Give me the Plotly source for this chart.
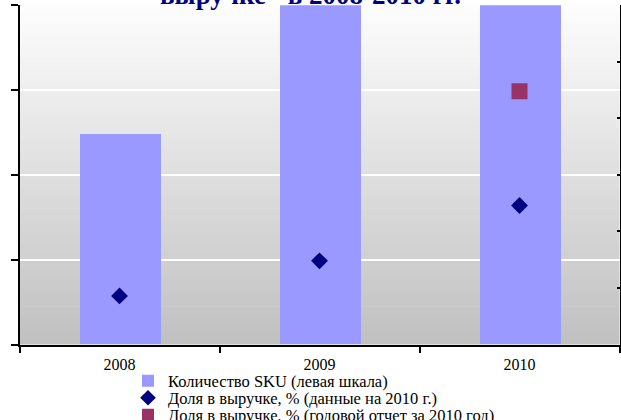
import plotly.graph_objects as go

# ---- data ----
years = ["2008", "2009", "2010"]
sku_count = [248, 480, 520]              # left scale (bars)
share_2010_data = [8.6, 14.8, 24.6]      # right scale (diamonds)
share_annual_years = ["2010"]
share_annual = [44.8]                    # right scale (square)
legend_names = [
    "Количество SKU (левая шкала)",
    "Доля в выручке, % (данные на 2010 г.)",
    "Доля в выручке, % (годовой отчет за 2010 год)",
]
title_text = 'выручке" в 2008-2010 гг.'

W, H = 621, 420
SERIF = "Liberation Serif, Times New Roman, serif"

fig = go.Figure()

fig.add_trace(go.Bar(
    x=years, y=sku_count, name=legend_names[0],
    marker=dict(color="#9999FF", line=dict(width=0)),
    width=0.405, yaxis="y", legend="legend",
))
fig.add_trace(go.Scatter(
    x=years, y=share_2010_data, name=legend_names[1], mode="markers",
    marker=dict(symbol="diamond", size=13, color="#000080"),
    yaxis="y2", legend="legend2",
))
fig.add_trace(go.Scatter(
    x=share_annual_years, y=share_annual, name=legend_names[2], mode="markers",
    marker=dict(symbol="square", size=16, color="#993366"),
    yaxis="y2", legend="legend3",
))

# plot-area geometry (pixels)
left_px, right_px, top_px, bottom_px = 19.5, 619.5, 5.3, 344.5
x_dom = [left_px / W, right_px / W]
y_dom = [(H - bottom_px) / H, (H - top_px) / H]

# gradient background bands
N = 90
for i in range(N):
    t0, t1 = i / N, (i + 1) / N
    g = int(round(192 + (253 - 192) * (i + 0.5) / N))
    fig.add_shape(type="rect", xref="x domain", yref="y domain",
                  x0=0, x1=1, y0=t0, y1=t1 + 0.002, layer="below",
                  line=dict(width=0), fillcolor=f"rgb({g},{g},{g})")

# far-left tick strip (partially visible neighbouring axis)
strip_px = 48.43
strip_lo = (354 - bottom_px) / strip_px
strip_hi = 7 + (15 - top_px) / strip_px

leg_font = dict(family=SERIF, size=16.5, color="black")
leg_x = 128 / W

fig.update_layout(
    width=W, height=H,
    margin=dict(l=0, r=0, t=0, b=0, autoexpand=False),
    paper_bgcolor="white", plot_bgcolor="white",
    font=dict(family=SERIF, size=13, color="black"),
    bargap=0,
    xaxis=dict(
        domain=x_dom, type="category", range=[-0.5, 2.5], automargin=False,
        showline=True, linecolor="black", linewidth=2,
        ticks="outside", tickson="boundaries", ticklen=6, tickwidth=2,
        tickcolor="black", showgrid=False, ticklabelstandoff=4,
        tickfont=dict(family=SERIF, size=16, color="black"),
    ),
    yaxis=dict(
        domain=y_dom, range=[0, 400], dtick=100, automargin=False,
        showline=True, linecolor="black", linewidth=2,
        ticks="outside", ticklen=7, tickwidth=2, tickcolor="black",
        showticklabels=False, showgrid=True, gridcolor="white", gridwidth=2,
        zeroline=False,
    ),
    yaxis2=dict(
        overlaying="y", side="right", anchor="x", range=[0, 60], dtick=10,
        automargin=False,
        showline=True, linecolor="black", linewidth=2,
        ticks="inside", ticklen=3, tickwidth=2, tickcolor="black",
        showticklabels=False, showgrid=False, zeroline=False,
    ),
    yaxis3=dict(
        overlaying="y", range=[strip_lo, strip_hi], tick0=0, dtick=1,
        anchor="free", position=0, side="left", automargin=False,
        ticks="inside", ticklen=5, tickwidth=2, tickcolor="black",
        showline=False, showgrid=False, showticklabels=False, zeroline=False,
    ),
    legend=dict(x=leg_x, xanchor="left", y=1 - 381 / H, yanchor="middle",
                font=leg_font, bgcolor="rgba(0,0,0,0)", itemwidth=30),
    legend2=dict(x=leg_x, xanchor="left", y=1 - 398 / H, yanchor="middle",
                 font=leg_font, bgcolor="rgba(0,0,0,0)", itemwidth=30,
                 itemsizing="constant"),
    legend3=dict(x=leg_x, xanchor="left", y=1 - 415 / H, yanchor="middle",
                 font=leg_font, bgcolor="rgba(0,0,0,0)", itemwidth=30,
                 itemsizing="constant"),
    annotations=[dict(
        text=f"<b>{title_text}</b>", xref="paper", yref="paper",
        x=0.5, y=1 - 12 / H, xanchor="center", yanchor="bottom",
        showarrow=False, font=dict(family=SERIF, size=27, color="#000080"),
    )],
    showlegend=True,
)

fig.write_html(
    "out.html",
    config={"displayModeBar": False},
    post_script="document.body.style.margin='0px';"
                "document.body.style.overflow='hidden';",
)
